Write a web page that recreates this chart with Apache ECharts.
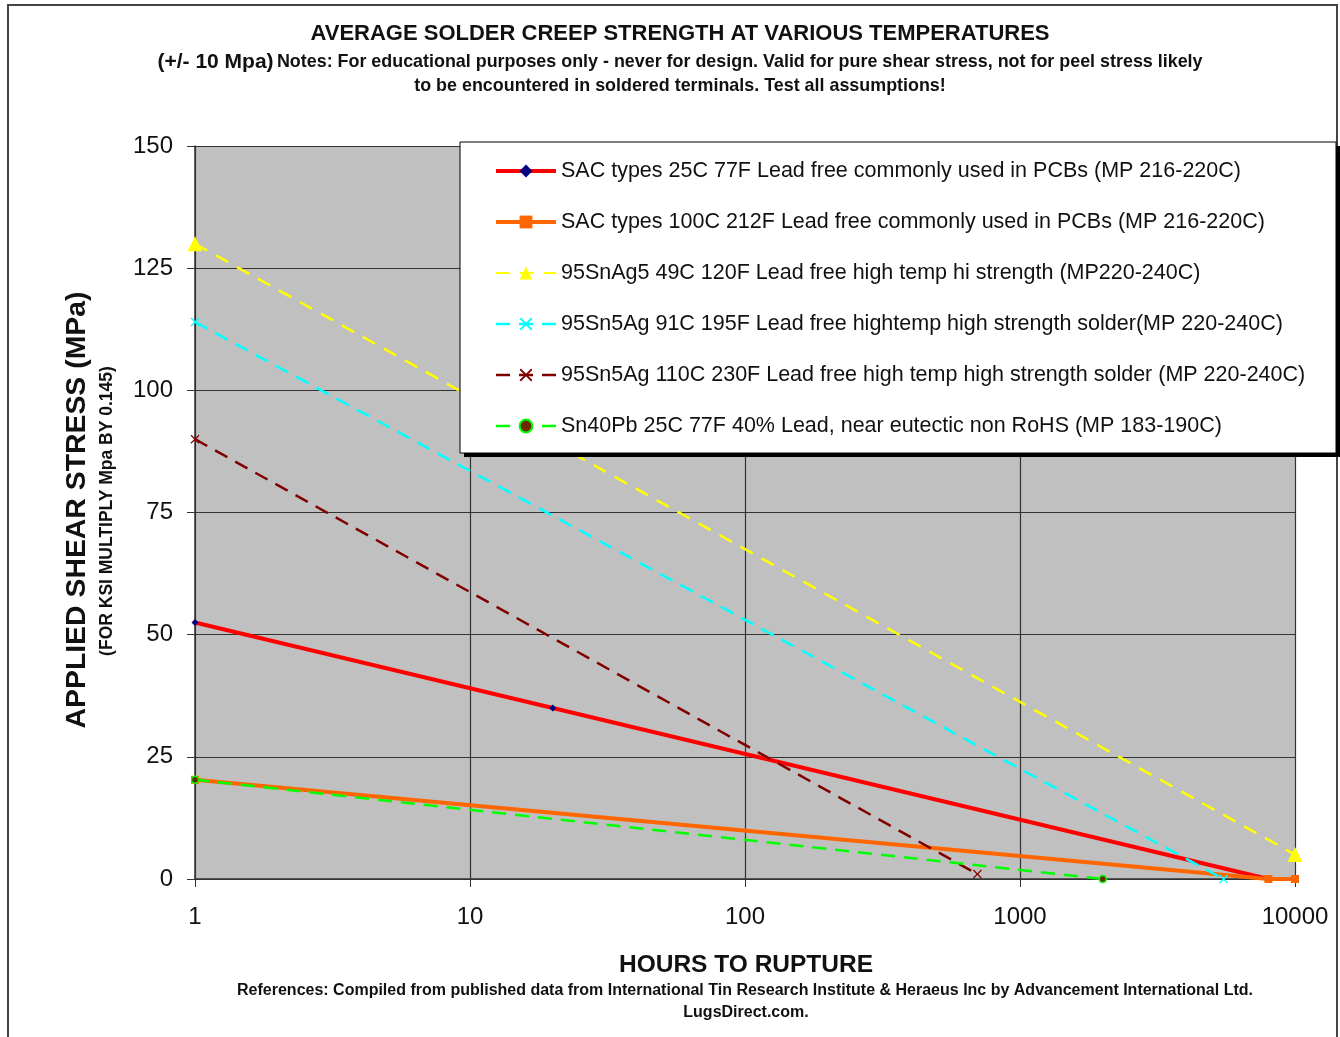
<!DOCTYPE html>
<html>
<head>
<meta charset="utf-8">
<script src="https://cdn.jsdelivr.net/npm/echarts@6/dist/echarts.min.js"></script>
<style>
  html, body { margin: 0; padding: 0; background: #fff; }
  #chart { width: 1340px; height: 1037px; }
</style>
</head>
<body>
<div id="chart"></div>
<script>
// hours to rupture vs applied shear stress (MPa)
const sac25 = [[1, 52.5], [20, 35], [8000, 0]];
const sac100 = [[1, 20.3], [8000, 0], [10000, 0]];
const snAg49 = [[1, 130], [10000, 5]];
const snAg91 = [[1, 114], [5500, 0]];
const snAg110 = [[1, 90], [700, 1]];
const sn40pb = [[1, 20.3], [2000, 0]];

const seriesNames = [
  'SAC types 25C 77F Lead free commonly used in PCBs (MP 216-220C)',
  'SAC types 100C 212F Lead free commonly used in PCBs (MP 216-220C)',
  '95SnAg5 49C 120F Lead free high temp hi strength (MP220-240C)',
  '95Sn5Ag 91C 195F Lead free hightemp high strength solder(MP 220-240C)',
  '95Sn5Ag 110C 230F Lead free high temp high strength solder (MP 220-240C)',
  'Sn40Pb 25C 77F 40% Lead, near eutectic non RoHS (MP 183-190C)'
];
const legendWidths = [4, 4, 2, 2.5, 2.5, 2.5];
const yTicks = [0, 25, 50, 75, 100, 125, 150];
const xTicks = [1, 10, 100, 1000, 10000];

const FONT = 'Liberation Sans, Arial, sans-serif';
const xMark = 'path://M0,1L1,0L5,4L9,0L10,1L6,5L10,9L9,10L5,6L1,10L0,9L4,5Z';

let chart = echarts.init(document.getElementById('chart'));

chart.setOption({
  backgroundColor: '#fff',
  animation: false,
  textStyle: { fontFamily: FONT },
  grid: {
    left: 195, right: 45, top: 146, bottom: 158,
    show: true, backgroundColor: '#C0C0C0', borderWidth: 0
  },
  legend: {
    orient: 'vertical',
    left: 489, top: 154,
    z: 20,
    itemWidth: 60, itemHeight: 16,
    itemGap: 27,
    textStyle: { fontSize: 21.5, color: '#111', lineHeight: 24, fontFamily: FONT },
    data: seriesNames.map((n, i) => ({ name: n, lineStyle: { width: legendWidths[i] } }))
  },
  xAxis: {
    type: 'log', logBase: 10, min: xTicks[0], max: xTicks[xTicks.length - 1],
    axisLine: { show: true, lineStyle: { color: '#333', width: 1.5 } },
    axisTick: { show: true, length: 8, lineStyle: { color: '#333' } },
    minorTick: { show: false },
    axisLabel: { fontSize: 24, color: '#111', margin: 26, fontFamily: FONT,
      formatter: v => String(Math.round(v)) },
    splitLine: { show: true, lineStyle: { color: '#333', width: 1.2 } }
  },
  yAxis: {
    type: 'value', min: yTicks[0], max: yTicks[yTicks.length - 1], interval: 25,
    axisLine: { show: true, lineStyle: { color: '#333', width: 1.5 } },
    axisTick: { show: true, length: 8, lineStyle: { color: '#333' } },
    axisLabel: { fontSize: 24, color: '#111', margin: 22, fontFamily: FONT },
    splitLine: { show: true, lineStyle: { color: '#333', width: 1.2 } }
  },
  graphic: [
    // outer frame
    { type: 'rect', z: 0, shape: { x: 8, y: 5, width: 1329, height: 1040 },
      style: { fill: 'none', stroke: '#444', lineWidth: 2 } },
    // legend box with shadow
    { type: 'rect', z: 10, shape: { x: 464, y: 146, width: 876, height: 311 },
      style: { fill: '#000' } },
    { type: 'rect', z: 11, shape: { x: 460, y: 142, width: 876, height: 311 },
      style: { fill: '#fff', stroke: '#000', lineWidth: 1 } },
    { type: 'text', z: 12, x: 680, y: 34,
      style: { text: 'AVERAGE SOLDER CREEP STRENGTH AT VARIOUS TEMPERATURES',
        font: 'bold 22px ' + FONT, fill: '#111', textAlign: 'center', textVerticalAlign: 'middle' } },
    { type: 'text', z: 12, x: 680, y: 62,
      style: { text: '{a|(+/- 10 Mpa)} {b|Notes: For educational purposes only - never for design. Valid for pure shear stress, not for peel stress likely}',
        rich: {
          a: { fontSize: 21, fontWeight: 'bold', fontFamily: FONT, fill: '#111' },
          b: { fontSize: 17.9, fontWeight: 'bold', fontFamily: FONT, fill: '#111' }
        },
        textAlign: 'center', textVerticalAlign: 'middle' } },
    { type: 'text', z: 12, x: 680, y: 86,
      style: { text: 'to be encountered in soldered terminals. Test all assumptions!',
        font: 'bold 17.9px ' + FONT, fill: '#111', textAlign: 'center', textVerticalAlign: 'middle' } },
    { type: 'text', z: 12, x: 77, y: 510, rotation: Math.PI / 2,
      style: { text: 'APPLIED SHEAR STRESS (MPa)',
        font: 'bold 28.4px ' + FONT, fill: '#111', textAlign: 'center', textVerticalAlign: 'middle' } },
    { type: 'text', z: 12, x: 107, y: 511, rotation: Math.PI / 2,
      style: { text: '(FOR KSI MULTIPLY Mpa BY 0.145)',
        font: 'bold 17.5px ' + FONT, fill: '#111', textAlign: 'center', textVerticalAlign: 'middle' } },
    { type: 'text', z: 12, x: 746, y: 965,
      style: { text: 'HOURS TO RUPTURE',
        font: 'bold 24.5px ' + FONT, fill: '#111', textAlign: 'center', textVerticalAlign: 'middle' } },
    { type: 'text', z: 12, x: 745, y: 991,
      style: { text: 'References: Compiled from published data from International Tin Research Institute & Heraeus Inc by Advancement International Ltd.',
        font: 'bold 16px ' + FONT, fill: '#111', textAlign: 'center', textVerticalAlign: 'middle' } },
    { type: 'text', z: 12, x: 746, y: 1013,
      style: { text: 'LugsDirect.com.',
        font: 'bold 16px ' + FONT, fill: '#111', textAlign: 'center', textVerticalAlign: 'middle' } }
  ],
  series: [
    {
      name: seriesNames[0], type: 'line', data: sac25,
      symbol: 'diamond', symbolSize: 7,
      lineStyle: { color: '#FF0000', width: 4 },
      itemStyle: { color: '#000080' }
    },
    {
      name: seriesNames[1], type: 'line', data: sac100,
      symbol: 'rect', symbolSize: 8,
      lineStyle: { color: '#FF6600', width: 4 },
      itemStyle: { color: '#FF6600' }
    },
    {
      name: seriesNames[2], type: 'line', data: snAg49,
      symbol: 'triangle', symbolSize: 15,
      lineStyle: { color: '#FFFF00', width: 2.5, type: [14, 10] },
      itemStyle: { color: '#FFFF00' }
    },
    {
      name: seriesNames[3], type: 'line', data: snAg91,
      symbol: xMark, symbolSize: 9,
      lineStyle: { color: '#00FFFF', width: 2.5, type: [14, 9] },
      itemStyle: { color: '#00FFFF' }
    },
    {
      name: seriesNames[4], type: 'line', data: snAg110,
      symbol: xMark, symbolSize: 9,
      lineStyle: { color: '#800000', width: 2.5, type: [14, 9] },
      itemStyle: { color: '#800000' }
    },
    {
      name: seriesNames[5], type: 'line', data: sn40pb,
      symbol: 'circle', symbolSize: 7,
      lineStyle: { color: '#00FF00', width: 2.5, type: [14, 9] },
      itemStyle: { color: '#6B2A00', borderColor: '#00FF00', borderWidth: 1.5 }
    }
  ]
});
</script>
</body>
</html>
